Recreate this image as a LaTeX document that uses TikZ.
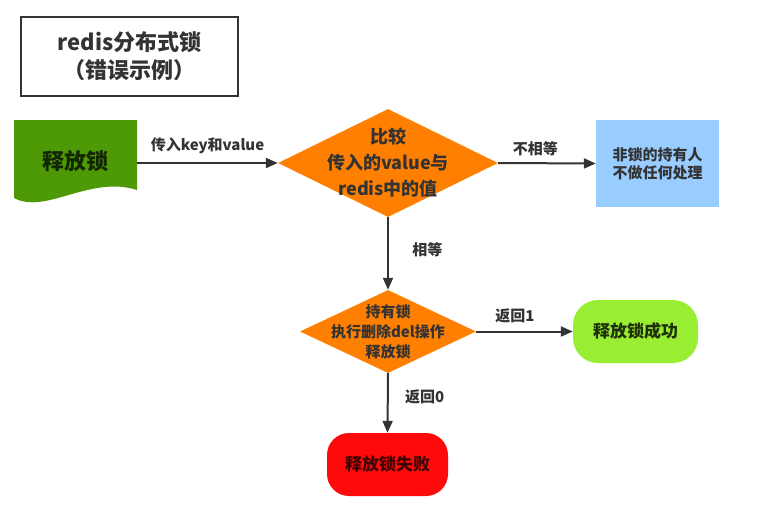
\documentclass[tikz,border=0pt]{standalone}
\usepackage{fontspec}
\setmainfont{Noto Sans CJK SC}
\usepackage{tikz}
\usetikzlibrary{arrows.meta,shapes.geometric,positioning}
\usepackage{xcolor}
\definecolor{lineGray}{HTML}{333333}
\definecolor{docGreen}{HTML}{4E9A06}
\definecolor{flowOrange}{HTML}{FF8000}
\definecolor{boxBlue}{HTML}{99CCFF}
\definecolor{okGreen}{HTML}{99EE33}
\definecolor{failRed}{HTML}{FF0A0A}

\begin{document}
\begin{tikzpicture}[x=1pt, y=-1pt,
    every node/.style={font=\bfseries, text=lineGray, align=center},
    flow/.style={-{Triangle[length=12pt,width=10pt]}, line width=2pt, draw=lineGray},
    decide/.style={diamond, fill=flowOrange},
    lbl/.style={font=\bfseries\fontsize{15}{18}\selectfont}]
    \useasboundingbox (0,0) rectangle (766,511);

    % Title
    \node[draw=lineGray, line width=2.5pt, minimum width=217pt, minimum height=79pt,
          font=\bfseries\fontsize{22}{28}\selectfont] (title) at (129.5,56.5)
          {redis分布式锁\\（错误示例）};

    % Start: document shape
    \fill[docGreen] (14,120) -- (137,120) -- (137,190)
        .. controls (90,175) and (45,215) .. (14,198) -- cycle;
    \node[minimum width=123pt, minimum height=70pt, text=black!75!docGreen,
          font=\bfseries\fontsize{22}{26}\selectfont] (release) at (75.5,161) {释放锁};

    % Decisions
    \node[decide, aspect=2.04, inner xsep=-2pt, inner ysep=-14pt,
          minimum width=220pt, minimum height=108pt,
          font=\bfseries\fontsize{18}{26}\selectfont] (cmp) at (388,163)
          {比较\\传入的value与\\redis中的值};
    \node[decide, aspect=2.12, inner xsep=-2pt, inner ysep=-12pt,
          minimum width=176pt, minimum height=83pt,
          font=\bfseries\fontsize{15}{20}\selectfont] (hold) at (388,331.5)
          {持有锁\\执行删除del操作\\释放锁};

    % Results
    \node[fill=boxBlue, minimum width=123pt, minimum height=87pt,
          font=\bfseries\fontsize{15}{18}\selectfont] (notowner) at (657.5,163.5)
          {非锁的持有人\\不做任何处理};
    \node[fill=okGreen, rounded corners=25pt, minimum width=125pt, minimum height=63pt,
          text=black!80!okGreen, font=\bfseries\fontsize{17}{20}\selectfont] (ok) at (635.5,331.5)
          {释放锁成功};
    \node[fill=failRed, rounded corners=22pt, minimum width=121pt, minimum height=63pt,
          text=black!75!failRed, font=\bfseries\fontsize{17}{20}\selectfont] (fail) at (387.5,464.5)
          {释放锁失败};

    % Connectors
    \draw[flow] (release.east |- cmp.west) -- node[lbl, above=5pt] (inlbl) {传入key和value} (cmp.west);
    \draw[flow] (cmp.east) -- node[lbl, above=3pt, pos=0.38] (nelbl) {不相等} (notowner.west);
    \draw[flow] (cmp.south) -- node[lbl, right=20pt, pos=0.45] (eqlbl) {相等} (hold.north);
    \draw[flow] (hold.east) -- node[lbl, above=4pt, pos=0.4] (r1lbl) {返回1} (ok.west);
    \draw[flow] (hold.south) -- node[lbl, right=13pt, pos=0.4] (r0lbl) {返回0} (fail.north);
\end{tikzpicture}
\end{document}
